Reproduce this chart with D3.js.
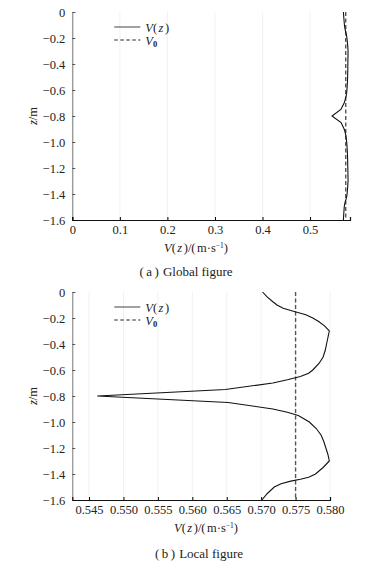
<!DOCTYPE html>
<html>
<head>
<meta charset="utf-8">
<script src="https://cdn.jsdelivr.net/npm/d3@7"></script>
<style>
  body { margin: 0; background: #fff; }
  text { font-family: "Liberation Serif", serif; fill: #222; }
</style>
</head>
<body>
<div id="graph"></div>
<script>
var svgWidth = 367;
var svgHeight = 563;

// depth z (m) and velocity V(z) (m/s)
var zValues = [0, -0.04, -0.075, -0.10, -0.125, -0.15, -0.175, -0.20, -0.225, -0.26, -0.30,
  -0.35, -0.40, -0.45, -0.50, -0.55, -0.60, -0.625, -0.65, -0.675, -0.70, -0.75,
  -0.80, -0.85, -0.90, -0.925, -0.95, -1.00, -1.05, -1.10, -1.15, -1.20, -1.25,
  -1.30, -1.35, -1.40, -1.425, -1.44, -1.455, -1.475, -1.50, -1.55, -1.60];
var vValues = [0.5702, 0.5709, 0.5717, 0.5723, 0.5732, 0.5748, 0.5765, 0.5775, 0.5783, 0.5792, 0.5799,
  0.5797, 0.5795, 0.5793, 0.5790, 0.5784, 0.5775, 0.5769, 0.5757, 0.5738, 0.5717, 0.5648,
  0.5462, 0.5652, 0.5717, 0.5738, 0.5754, 0.5770, 0.5780, 0.5787, 0.5791, 0.5794, 0.5797,
  0.5799, 0.5790, 0.5779, 0.5769, 0.5757, 0.5743, 0.5729, 0.5719, 0.5709, 0.5701];
var v0 = 0.575;

var yTicks = [0, -0.2, -0.4, -0.6, -0.8, -1.0, -1.2, -1.4, -1.6];
var xTicksGlobal = [0, 0.1, 0.2, 0.3, 0.4, 0.5];
var xTicksLocal = [0.545, 0.550, 0.555, 0.560, 0.565, 0.570, 0.575, 0.580];

var curve = zValues.map((z, i) => ({z: z, v: vValues[i]}));

var svg = d3.select("#graph")
  .append("svg")
  .attr("width", svgWidth)
  .attr("height", svgHeight);

function drawPanel(opt) {
  var left = 72.3;
  var width = opt.right - left;
  var height = 208;

  var g = svg.append("g").attr("transform", `translate(${left}, ${opt.top})`);

  var x = d3.scaleLinear().domain(opt.domain).range([0, width]);
  var y = d3.scaleLinear().domain([0, -1.6]).range([0, height]);

  // faint grid
  g.selectAll(".grid")
    .data(opt.ticks)
    .enter()
    .append("line")
    .attr("x1", d => x(d)).attr("x2", d => x(d))
    .attr("y1", 0).attr("y2", height)
    .attr("stroke", "#f1f1f1");

  // y axis, ticks pointing inside
  var yAxis = g.append("g")
    .call(d3.axisRight(y).tickValues(yTicks).tickSize(3).tickFormat(d => d == 0 ? "0" : "\u2212" + d3.format(".1f")(-d)));
  yAxis.select(".domain").attr("stroke", "#777");
  yAxis.selectAll(".tick line").attr("stroke", "#555");
  yAxis.selectAll("text")
    .attr("x", -7)
    .attr("text-anchor", "end")
    .attr("font-size", "12.5px")
    .attr("font-family", "Liberation Serif")
    .attr("fill", "#222");

  // x axis, ticks pointing inside
  var xAxis = g.append("g")
    .attr("transform", `translate(0, ${height})`)
    .call(d3.axisTop(x).tickValues(opt.ticks).tickSize(3).tickFormat(opt.fmt));
  xAxis.select(".domain").attr("stroke", "#111").attr("stroke-width", 1.2);
  xAxis.selectAll("text")
    .attr("y", 14)
    .attr("dy", "0")
    .attr("font-size", "12.5px")
    .attr("font-family", "Liberation Serif")
    .attr("fill", "#222");

  // V0 reference line
  g.append("line")
    .attr("x1", x(v0)).attr("x2", x(v0))
    .attr("y1", y(0)).attr("y2", y(-1.6))
    .attr("stroke", "#555")
    .attr("stroke-width", 1.4)
    .attr("stroke-dasharray", "4,2.5");

  // V(z) curve
  var line = d3.line().x(d => x(d.v)).y(d => y(d.z));
  g.append("path")
    .datum(curve)
    .attr("d", line)
    .attr("fill", "none")
    .attr("stroke", "#111")
    .attr("stroke-width", 1.1);

  // legend
  var lg = g.append("g").attr("transform", "translate(42, 15)");
  lg.append("line").attr("x1", 0).attr("x2", 26).attr("y1", 0).attr("y2", 0)
    .attr("stroke", "#444").attr("stroke-width", 1);
  lg.append("line").attr("x1", 0).attr("x2", 26).attr("y1", 13).attr("y2", 13)
    .attr("stroke", "#222").attr("stroke-width", 1).attr("stroke-dasharray", "3.5,2.5");
  var t1 = lg.append("text").attr("x", 31).attr("y", 4.5).attr("font-size", "12.5px");
  t1.append("tspan").attr("font-style", "italic").text("V");
  t1.append("tspan").text("(");
  t1.append("tspan").attr("font-style", "italic").attr("dx", 1.5).text("z");
  t1.append("tspan").attr("dx", 1.5).text(")");
  var t2 = lg.append("text").attr("x", 31).attr("y", 17.5).attr("font-size", "12.5px");
  t2.append("tspan").attr("font-style", "italic").text("V");
  t2.append("tspan").attr("font-size", "8.5px").attr("font-weight", "bold").attr("dy", 2).text("0");

  // y label
  var yl = g.append("text")
    .attr("text-anchor", "middle")
    .attr("transform", `translate(-40, ${y(-0.8)}) rotate(-90)`)
    .attr("dy", "0.35em")
    .attr("font-size", "12.5px");
  yl.append("tspan").attr("font-style", "italic").text("z");
  yl.append("tspan").text("/m");

  // x label
  var xl = g.append("text")
    .attr("text-anchor", "middle")
    .attr("x", opt.labelX - left)
    .attr("y", height + 32)
    .attr("font-size", "12.5px");
  xl.append("tspan").attr("font-style", "italic").text("V");
  xl.append("tspan").text("(");
  xl.append("tspan").attr("font-style", "italic").attr("dx", 1.5).text("z");
  xl.append("tspan").attr("dx", 1.5).text(")/(");
  xl.append("tspan").attr("dx", 1.5).text("m\u00b7s");
  xl.append("tspan").attr("font-size", "7.5px").attr("dy", -4.5).text("\u22121");
  xl.append("tspan").attr("dy", 4.5).text(")");

  // caption, wide brackets as in the source
  var cap = g.append("text")
    .attr("text-anchor", "middle")
    .attr("x", opt.captionX - left)
    .attr("y", height + opt.captionDy)
    .attr("font-size", "13px");
  cap.append("tspan").text("(");
  cap.append("tspan").attr("dx", 2.5).text(opt.captionTag);
  cap.append("tspan").attr("dx", 2.5).text(")");
  cap.append("tspan").attr("dx", 4).text(opt.caption);
}

drawPanel({
  top: 12, domain: [0, 0.584], right: 350, ticks: xTicksGlobal,
  fmt: d => d == 0 ? "0" : d3.format(".1f")(d),
  labelX: 196, captionX: 186, captionDy: 56, captionTag: "a", caption: "Global figure"
});
drawPanel({
  top: 292, domain: [0.54257, 0.580], right: 330, ticks: xTicksLocal,
  fmt: d3.format(".3f"),
  labelX: 206, captionX: 199, captionDy: 58, captionTag: "b", caption: "Local figure"
});
</script>
</body>
</html>
